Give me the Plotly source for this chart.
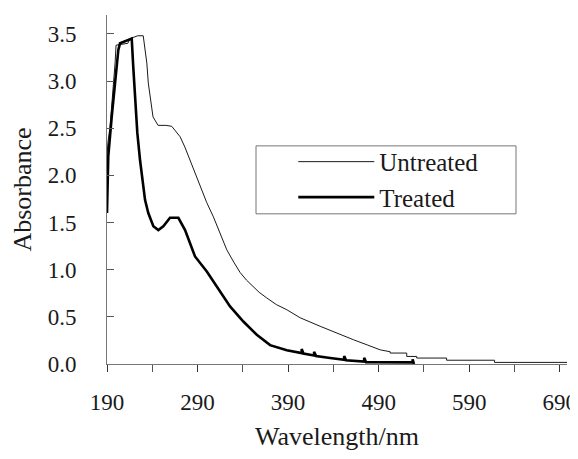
import plotly.graph_objects as go

# ---- data ----
untreated_wl = [190, 191, 193.3, 196, 198, 199, 200, 213, 215.4, 224, 230, 232, 234, 235.6, 238,
                240.8, 246.4, 255, 261.5, 266, 270.7, 276, 281.7, 287, 292.8, 300.2, 307.5, 314,
                322.3, 330, 337, 344, 351.3, 358, 366.5, 377, 388.6, 403.3, 425.4, 440, 462.2,
                478, 491.7, 502.7, 502.7, 521, 521, 532, 532, 565, 565, 618, 618, 698]
untreated_abs = [2.2, 2.35, 2.51, 2.8, 3.04, 3.2, 3.38, 3.40, 3.45, 3.48, 3.48, 3.35, 3.19, 2.98, 2.8,
                 2.62, 2.53, 2.53, 2.52, 2.47, 2.41, 2.3, 2.16, 2.02, 1.88, 1.71, 1.56, 1.4,
                 1.21, 1.08, 0.97, 0.89, 0.82, 0.76, 0.70, 0.63, 0.575, 0.49, 0.40, 0.34, 0.257,
                 0.2, 0.15, 0.13, 0.116, 0.116, 0.08, 0.08, 0.063, 0.063, 0.04, 0.04, 0.017, 0.017]

treated_wl = [190, 191.4, 195.2, 198.8, 202.5, 204.4, 210, 217.3, 219, 221, 223.5, 226.5, 230.1,
              232, 235.6, 241.2, 246.7, 252.2, 259.6, 268.8, 276.2, 287.2, 300.2, 311.2, 325.9,
              340.6, 355.4, 370.1, 388.6, 405, 405, 407, 418.7, 418.7, 421, 436.4, 451.9, 451.9,
              454, 474, 474, 476, 500, 527.5, 527.5, 529]
treated_abs = [1.6, 2.2, 2.62, 3.01, 3.33, 3.40, 3.42, 3.45, 3.15, 2.8, 2.45, 2.16, 1.88,
               1.74, 1.6, 1.46, 1.42, 1.46, 1.55, 1.55, 1.42, 1.14, 0.98, 0.82, 0.61,
               0.45, 0.31, 0.20, 0.145, 0.115, 0.16, 0.11, 0.09, 0.13, 0.085, 0.064, 0.045, 0.085,
               0.04, 0.025, 0.065, 0.02, 0.017, 0.017, 0.05, 0.0]

x_ticks = [190, 290, 390, 490, 590, 690]
y_ticks = [0.0, 0.5, 1.0, 1.5, 2.0, 2.5, 3.0, 3.5]
y_tick_labels = ["0.0", "0.5", "1.0", "1.5", "2.0", "2.5", "3.0", "3.5"]

FONT = "Liberation Serif, Times New Roman, serif"
TXT = "#1a1a1a"

fig = go.Figure()
fig.add_trace(go.Scatter(x=untreated_wl, y=untreated_abs, mode="lines", name="Untreated",
                         line=dict(color="#1a1a1a", width=1)))
fig.add_trace(go.Scatter(x=treated_wl, y=treated_abs, mode="lines", name="Treated",
                         line=dict(color="#000000", width=2.6)))

fig.update_layout(
    width=570, height=443,
    margin=dict(l=99, r=11, t=7, b=87),
    paper_bgcolor="white", plot_bgcolor="white",
    font=dict(family=FONT, size=23, color=TXT),
    showlegend=True,
    legend=dict(x=0.405, y=0.645, xanchor="left", yanchor="top",
                bgcolor="rgba(0,0,0,0)", borderwidth=0,
                font=dict(family=FONT, size=25, color=TXT),
                itemwidth=76, tracegroupgap=0),
    xaxis=dict(range=[190, 698], tickvals=x_ticks, ticktext=[str(v) for v in x_ticks],
               automargin=False, ticklabeloverflow="allow",
               showgrid=False, zeroline=False, showline=True, linecolor="#777", linewidth=1,
               ticks="outside", ticklen=7, tickcolor="#333", tickwidth=1,
               minor=dict(tickvals=[240, 340, 440, 540, 640], ticks="outside", ticklen=7,
                          tickcolor="#555", tickwidth=1),
               ticklabelstandoff=10,
               tickfont=dict(family=FONT, size=23, color=TXT),
               title=dict(text="Wavelength/nm", standoff=34,
                          font=dict(family=FONT, size=26, color=TXT))),
    xaxis2=dict(range=[190, 698], overlaying="x", anchor="y", side="bottom",
                automargin=False,
                tickvals=x_ticks, showticklabels=False, ticks="inside", ticklen=7,
                tickcolor="#333", tickwidth=1, showgrid=False, zeroline=False, showline=False),
    yaxis=dict(range=[0, 3.7], tickvals=y_ticks, ticktext=y_tick_labels,
               automargin=False,
               showgrid=False, zeroline=False, showline=True, linecolor="#777", linewidth=1,
               ticks="inside", ticklen=7, tickcolor="#555", tickwidth=1,
               ticklabelstandoff=25,
               tickfont=dict(family=FONT, size=23, color=TXT),
               title=dict(text="Absorbance", standoff=8,
                          font=dict(family=FONT, size=26, color=TXT))),
    shapes=[dict(type="rect", xref="paper", yref="paper",
                 x0=(256 - 107) / 460, x1=(516 - 107) / 460,
                 y0=(364.3 - 214) / 349.3, y1=(364.3 - 146) / 349.3,
                 line=dict(color="#777", width=1), fillcolor="rgba(0,0,0,0)", layer="below")],
)

fig.write_html("out.html")
